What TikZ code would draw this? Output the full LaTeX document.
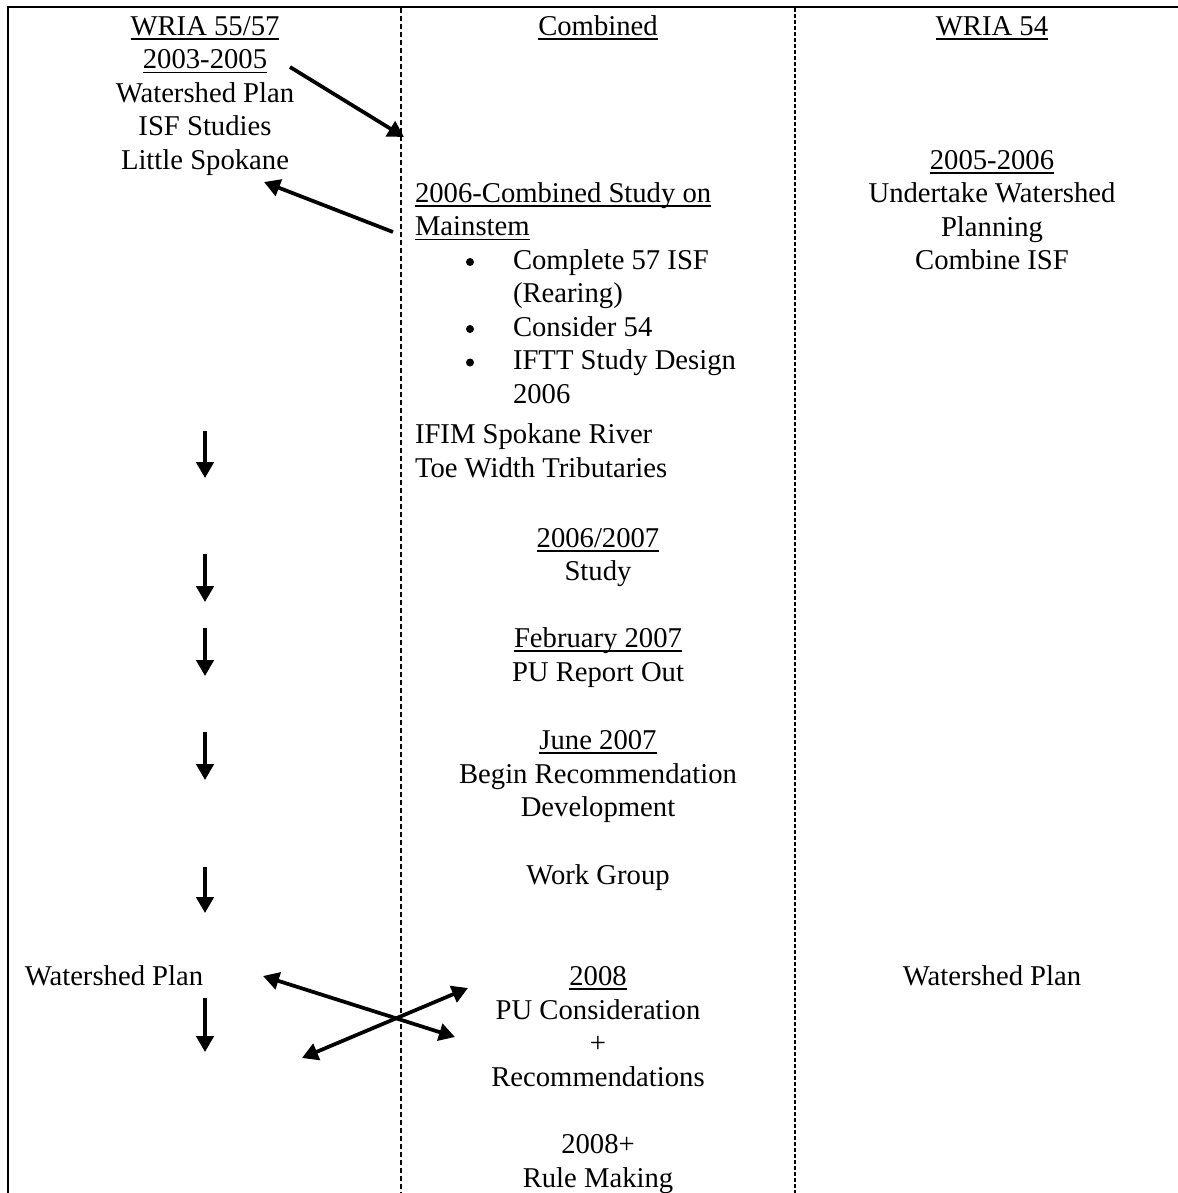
\documentclass[tikz,border=0pt]{standalone}
\usepackage{fontspec}
\setmainfont{Liberation Serif}
\usetikzlibrary{arrows.meta}
\tikzset{
  txt/.style={inner sep=0pt, outer sep=0pt, anchor=base, font=\fontsize{21.5pt}{25pt}\selectfont},
  txtl/.style={txt, anchor=base west},
  bul/.style={circle, fill=black, inner sep=0pt, minimum size=6pt},
  ulline/.style={line width=1.1pt},
  arr/.style={line width=2.8pt, -{Triangle[length=12pt,width=13pt]}},
  darr/.style={line width=2.8pt, {Triangle[length=12pt,width=13pt]}-{Triangle[length=12pt,width=13pt]}},
  divA/.style={line width=0.9pt, dash pattern=on 3.75pt off 2.25pt},
  divB/.style={line width=1.6pt, dash pattern=on 3pt off 1.5pt},
  frame/.style={line width=1.6pt}
}
\newcommand{\ulnode}[1]{\draw[ulline] ([yshift=-3pt]#1.base west) -- ([yshift=-3pt]#1.base east);}
\begin{document}
\begin{tikzpicture}[x=0.75pt,y=-0.75pt]
\useasboundingbox (0,0) rectangle (1178,1193);
% frame and dividers
\draw[frame] (8,1193) -- (8,7) -- (1178,7);
\draw[divA] (401,8) -- (401,1193);
\draw[divB] (795,8) -- (795,1193);

% left column
\node[txt] (l1) at (205,35) {WRIA 55/57};
\node[txt] (l2) at (205,68.5) {2003-2005};
\node[txt] (l3) at (205,102) {Watershed Plan};
\node[txt] (l4) at (205,135.5) {ISF Studies};
\node[txt] (l5) at (205,169) {Little Spokane};
\node[txt] (lw) at (114,985) {Watershed Plan};
\ulnode{l1}\ulnode{l2}

% middle column
\node[txt] (m1) at (598,35) {Combined};
\node[txtl] (m2) at (415,202) {2006-Combined Study on};
\node[txtl] (m3) at (415,235.5) {Mainstem};
\node[bul] (b1) at (470,262) {};
\node[txtl] (m4) at (513,269) {Complete 57 ISF};
\node[txtl] (m5) at (513,302.5) {(Rearing)};
\node[bul] (b2) at (470,329) {};
\node[txtl] (m6) at (513,336) {Consider 54};
\node[bul] (b3) at (470,362.5) {};
\node[txtl] (m7) at (513,369.5) {IFTT Study Design};
\node[txtl] (m8) at (513,403) {2006};
\node[txtl] (m9) at (415,443) {IFIM Spokane River};
\node[txtl] (m10) at (415,477) {Toe Width Tributaries};
\node[txt] (m11) at (598,547) {2006/2007};
\node[txt] (m12) at (598,580.5) {Study};
\node[txt] (m13) at (598,647) {February 2007};
\node[txt] (m14) at (598,681) {PU Report Out};
\node[txt] (m15) at (598,749) {June 2007};
\node[txt] (m16) at (598,783) {Begin Recommendation};
\node[txt] (m17) at (598,816) {Development};
\node[txt] (m18) at (598,884) {Work Group};
\node[txt] (m19) at (598,985) {2008};
\node[txt] (m20) at (598,1019) {PU Consideration};
\node[txt] (m21) at (598,1052) {+};
\node[txt] (m22) at (598,1086) {Recommendations};
\node[txt] (m23) at (598,1153) {2008+};
\node[txt] (m24) at (598,1187) {Rule Making};
\ulnode{m1}\ulnode{m2}\ulnode{m3}\ulnode{m11}\ulnode{m13}\ulnode{m15}\ulnode{m19}

% right column
\node[txt] (r1) at (992,35) {WRIA 54};
\node[txt] (r2) at (992,169) {2005-2006};
\node[txt] (r3) at (992,202) {Undertake Watershed};
\node[txt] (r4) at (992,236) {Planning};
\node[txt] (r5) at (992,269) {Combine ISF};
\node[txt] (r6) at (992,985) {Watershed Plan};
\ulnode{r1}\ulnode{r2}

% arrow end points
\coordinate (a1s) at (290,67);  \coordinate (a1e) at (404,137);
\coordinate (a2s) at (393,232); \coordinate (a2e) at (264,182);
\coordinate (d1s) at (205,431); \coordinate (d1e) at (205,478);
\coordinate (d2s) at (205,554); \coordinate (d2e) at (205,602);
\coordinate (d3s) at (205,628); \coordinate (d3e) at (205,676);
\coordinate (d4s) at (205,732); \coordinate (d4e) at (205,780);
\coordinate (d5s) at (205,867); \coordinate (d5e) at (205,913);
\coordinate (d6s) at (205,998); \coordinate (d6e) at (205,1052);
\coordinate (x1s) at (263,976); \coordinate (x1e) at (455,1037);
\coordinate (x2s) at (302,1058); \coordinate (x2e) at (468,988);

\draw[arr] (a1s) -- (a1e);
\draw[arr] (a2s) -- (a2e);
\draw[arr] (d1s) -- (d1e);
\draw[arr] (d2s) -- (d2e);
\draw[arr] (d3s) -- (d3e);
\draw[arr] (d4s) -- (d4e);
\draw[arr] (d5s) -- (d5e);
\draw[arr] (d6s) -- (d6e);
\draw[darr] (x1s) -- (x1e);
\draw[darr] (x2s) -- (x2e);
\end{tikzpicture}
\end{document}
